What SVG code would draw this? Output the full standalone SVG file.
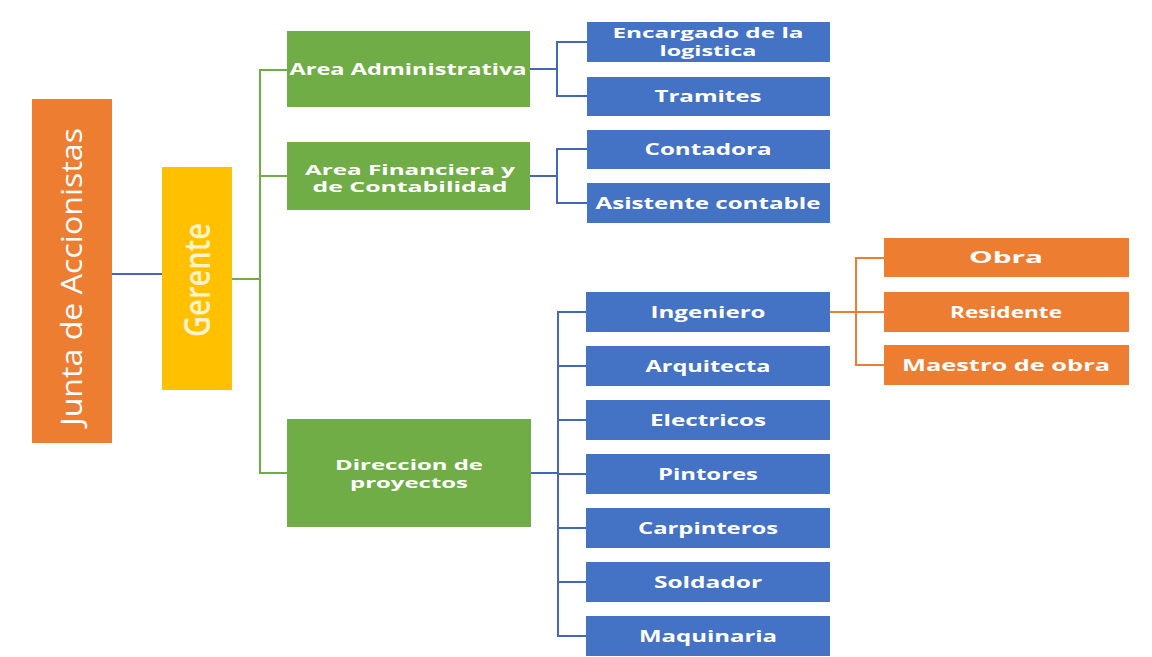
<svg xmlns="http://www.w3.org/2000/svg" width="1152" height="657" viewBox="0 0 1152 657">
<style>
.t{font-family:"Open Sans","Liberation Sans",sans-serif;font-weight:bold;font-size:16px;fill:#fff;text-anchor:middle}
.s{font-size:14px}
.g{fill:#70AD47}.b{fill:#4472C4}.o{fill:#ED7D31}
.cg{stroke:#70AD47;stroke-width:2;fill:none}
.cb{stroke:#4468B8;stroke-width:2;fill:none}
.co{stroke:#ED7D31;stroke-width:2;fill:none}
</style>
<rect width="1152" height="657" fill="#fff"/>
<g id="connectors">
<line class="cb" x1="112" y1="274" x2="162" y2="274"/>
<line class="cg" x1="232" y1="279" x2="260" y2="279"/>
<path class="cg" d="M287 70H260V473H287M260 176H287"/>
<path class="cb" d="M530 69H557M587 42H557V96H587"/>
<path class="cb" d="M530 176H557M587 149H557V203H587"/>
<path class="cb" d="M531 473H558M586 312H558V636H586M558 366H586M558 420H586M558 474H586M558 528H586M558 582H586"/>
<path class="co" d="M830 312H884M884 258H856V365H884"/>
</g>
<g id="junta"><rect class="o" x="32" y="99" width="80" height="344"/>
<text transform="translate(82,277) rotate(-90)" style="font-family:'Open Sans','Liberation Sans',sans-serif;font-size:30px;fill:#fff;text-anchor:middle" textLength="298" lengthAdjust="spacingAndGlyphs">Junta de Accionistas</text></g>
<g id="gerente"><rect x="162" y="167" width="70" height="223" fill="#FFC000"/>
<text transform="translate(210,280) rotate(-90)" style="font-family:'Open Sans','Liberation Sans',sans-serif;font-weight:600;font-size:36px;fill:#FFF2CC;text-anchor:middle" textLength="114" lengthAdjust="spacingAndGlyphs">Gerente</text></g>
<g id="admin"><rect class="g" x="287" y="31" width="243" height="76"/><text class="t" x="408" y="75" textLength="237" lengthAdjust="spacingAndGlyphs">Area Administrativa</text></g>
<g id="fin"><rect class="g" x="287" y="142" width="243" height="68"/><text class="t s" x="410" y="175" textLength="210" lengthAdjust="spacingAndGlyphs">Area Financiera y</text><text class="t s" x="410" y="192" textLength="195" lengthAdjust="spacingAndGlyphs">de Contabilidad</text></g>
<g id="direccion"><rect class="g" x="287" y="419" width="244" height="108"/><text class="t s" x="409" y="470" textLength="148" lengthAdjust="spacingAndGlyphs">Direccion de</text><text class="t s" x="409" y="488" textLength="118" lengthAdjust="spacingAndGlyphs">proyectos</text></g>
<g id="encargado"><rect class="b" x="587" y="22" width="243" height="40"/><text class="t s" x="708" y="38" textLength="191" lengthAdjust="spacingAndGlyphs">Encargado de la</text><text class="t s" x="708" y="56" textLength="97" lengthAdjust="spacingAndGlyphs">logistica</text></g>
<g id="tramites"><rect class="b" x="587" y="77" width="243" height="39"/><text class="t" x="708" y="102" textLength="107" lengthAdjust="spacingAndGlyphs">Tramites</text></g>
<g id="contadora"><rect class="b" x="587" y="130" width="243" height="39"/><text class="t" x="708" y="155" textLength="127" lengthAdjust="spacingAndGlyphs">Contadora</text></g>
<g id="asistente"><rect class="b" x="587" y="183" width="243" height="40"/><text class="t" x="708" y="209" textLength="225" lengthAdjust="spacingAndGlyphs">Asistente contable</text></g>
<g id="ingeniero"><rect class="b" x="586" y="292" width="244" height="40"/><text class="t" x="708" y="318" textLength="115" lengthAdjust="spacingAndGlyphs">Ingeniero</text></g>
<g id="arquitecta"><rect class="b" x="586" y="346" width="244" height="40"/><text class="t" x="708" y="372" textLength="125" lengthAdjust="spacingAndGlyphs">Arquitecta</text></g>
<g id="electricos"><rect class="b" x="586" y="400" width="244" height="40"/><text class="t" x="708" y="426" textLength="116" lengthAdjust="spacingAndGlyphs">Electricos</text></g>
<g id="pintores"><rect class="b" x="586" y="454" width="244" height="40"/><text class="t" x="708" y="480" textLength="100" lengthAdjust="spacingAndGlyphs">Pintores</text></g>
<g id="carpinteros"><rect class="b" x="586" y="508" width="244" height="40"/><text class="t" x="708" y="534" textLength="140" lengthAdjust="spacingAndGlyphs">Carpinteros</text></g>
<g id="soldador"><rect class="b" x="586" y="562" width="244" height="40"/><text class="t" x="708" y="588" textLength="108" lengthAdjust="spacingAndGlyphs">Soldador</text></g>
<g id="maquinaria"><rect class="b" x="586" y="616" width="244" height="40"/><text class="t" x="708" y="642" textLength="138" lengthAdjust="spacingAndGlyphs">Maquinaria</text></g>
<g id="obra"><rect class="o" x="884" y="238" width="245" height="39"/><text class="t" x="1006" y="263" textLength="74" lengthAdjust="spacingAndGlyphs">Obra</text></g>
<g id="residente"><rect class="o" x="884" y="292" width="245" height="40"/><text class="t" x="1006" y="318" textLength="112" lengthAdjust="spacingAndGlyphs">Residente</text></g>
<g id="maestro"><rect class="o" x="884" y="345" width="245" height="40"/><text class="t" x="1006" y="371" textLength="208" lengthAdjust="spacingAndGlyphs">Maestro de obra</text></g>
</svg>
